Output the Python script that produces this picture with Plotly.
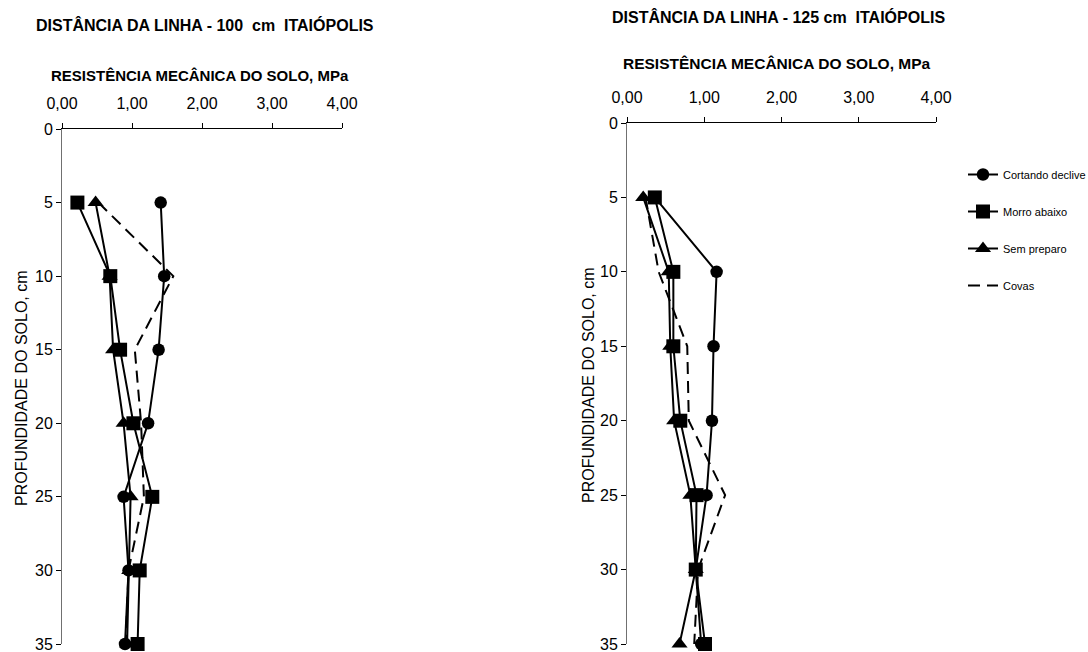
import plotly.graph_objects as go

W, H = 1088, 652

depth = [5, 10, 15, 20, 25, 30, 35]
y_ticks = [0, 5, 10, 15, 20, 25, 30, 35]
x_ticks = [0, 1, 2, 3, 4]
x_tick_labels = ["0,00", "1,00", "2,00", "3,00", "4,00"]

series_names = ["Cortando declive", "Morro abaixo", "Sem preparo", "Covas"]

# Chart 1 : 100 cm
c1_cortando = [1.41, 1.46, 1.38, 1.23, 0.88, 0.95, 0.90]
c1_morro = [0.22, 0.69, 0.83, 1.02, 1.29, 1.11, 1.08]
c1_sem = [0.48, 0.68, 0.73, 0.88, 0.98, 0.96, 0.93]
c1_covas = [0.52, 1.59, 1.04, 1.13, 1.17, 0.95, 0.91]

# Chart 2 : 125 cm
c2_cortando = [0.36, 1.16, 1.12, 1.10, 1.03, 0.89, 0.96]
c2_morro = [0.36, 0.60, 0.60, 0.69, 0.90, 0.89, 1.01]
c2_sem = [0.21, 0.54, 0.56, 0.61, 0.82, 0.89, 0.68]
c2_covas = [0.24, 0.41, 0.78, 0.80, 1.27, 0.92, 0.87]

title1 = "DISTÂNCIA DA LINHA - 100  cm  ITAIÓPOLIS"
title2 = "DISTÂNCIA DA LINHA - 125 cm  ITAIÓPOLIS"
xtitle = "RESISTÊNCIA MECÂNICA DO SOLO, MPa"
ytitle = "PROFUNDIDADE DO SOLO, cm"

symbols = ["circle", "square", "triangle-up", None]
sizes = [12.5, 14, 14, None]

fig = go.Figure()

def add_chart(vals_list, xa, ya, show):
    for i, (name, vals) in enumerate(zip(series_names, vals_list)):
        if symbols[i] is None:
            fig.add_trace(go.Scatter(
                x=vals, y=depth, xaxis=xa, yaxis=ya, name=name, mode="lines",
                line=dict(color="black", width=2, dash="12px,7px"),
                showlegend=show, legendgroup=name, cliponaxis=False))
        else:
            fig.add_trace(go.Scatter(
                x=vals, y=depth, xaxis=xa, yaxis=ya, name=name, mode="lines+markers",
                line=dict(color="black", width=2),
                marker=dict(symbol=symbols[i], size=sizes[i], color="black"),
                showlegend=show, legendgroup=name, cliponaxis=False))

add_chart([c1_cortando, c1_morro, c1_sem, c1_covas], "x", "y", False)
add_chart([c2_cortando, c2_morro, c2_sem, c2_covas], "x2", "y2", True)

def px_x(p):
    return p / W

def px_y(p):
    return 1 - p / H

xaxis_common = dict(range=[0, 4], side="top", tickvals=x_ticks, ticktext=x_tick_labels,
                    showgrid=False, zeroline=False, showline=True, linecolor="black",
                    linewidth=1, ticks="outside", ticklen=5, tickcolor="black",
                    tickfont=dict(family="Arial", size=16, color="black"),
                    ticklabelstandoff=8, ticklabeloverflow="allow")
yaxis_common = dict(range=[35, 0], tickvals=y_ticks, showgrid=False, zeroline=False,
                    showline=True, linecolor="#707070", linewidth=1, ticks="outside",
                    ticklen=5, tickcolor="black",
                    tickfont=dict(family="Arial", size=16, color="black"),
                    ticklabelstandoff=0, ticklabeloverflow="allow")

fig.update_layout(
    width=W, height=H,
    margin=dict(l=0, r=0, t=0, b=0, autoexpand=False),
    paper_bgcolor="white", plot_bgcolor="white",
    font=dict(family="Arial", color="black"),
    xaxis=dict(domain=[px_x(62), px_x(342)], anchor="y", **xaxis_common),
    yaxis=dict(domain=[px_y(644), px_y(129)], anchor="x", **yaxis_common),
    xaxis2=dict(domain=[px_x(627), px_x(936)], anchor="y2", **xaxis_common),
    yaxis2=dict(domain=[px_y(644), px_y(123)], anchor="x2", **yaxis_common),
    legend=dict(x=px_x(963), y=px_y(160), xanchor="left", yanchor="top",
                font=dict(family="Arial", size=11, color="black"),
                tracegroupgap=18, bgcolor="rgba(0,0,0,0)"),
    showlegend=True,
)

annots = [
    dict(text="<b>" + title1 + "</b>", x=px_x(205), y=px_y(25), size=16, angle=0),
    dict(text="<b>" + title2 + "</b>", x=px_x(778), y=px_y(17), size=16, angle=0),
    dict(text="<b>" + xtitle + "</b>", x=px_x(200), y=px_y(75), size=15, angle=0),
    dict(text="<b>" + xtitle + "</b>", x=px_x(777), y=px_y(64), size=15.5, angle=0),
    dict(text=ytitle, x=px_x(21), y=px_y(388), size=16, angle=-90),
    dict(text=ytitle, x=px_x(588), y=px_y(385), size=16, angle=-90),
]
for a in annots:
    fig.add_annotation(text=a["text"], x=a["x"], y=a["y"], xref="paper", yref="paper",
                       xanchor="center", yanchor="middle", showarrow=False,
                       textangle=a["angle"],
                       font=dict(family="Arial", size=a["size"], color="black"))

fig.write_html("out.html")
